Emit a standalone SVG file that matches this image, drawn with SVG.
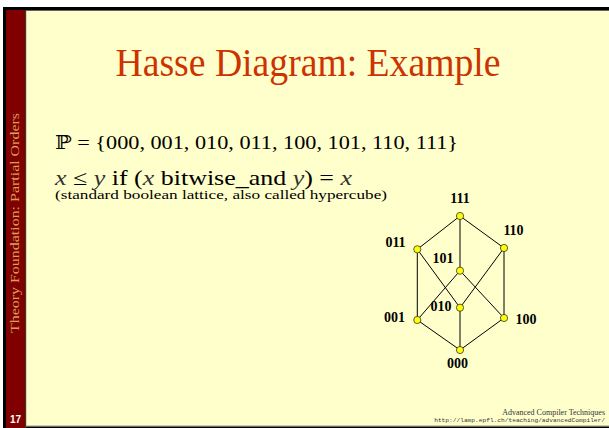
<svg xmlns="http://www.w3.org/2000/svg" width="609" height="428" viewBox="0 0 609 428">
<style>
.serif{font-family:"Liberation Serif","DejaVu Serif",serif;}
.lbl{font-family:"Liberation Serif","DejaVu Serif",serif;font-weight:bold;font-size:14px;fill:#000;}
.edge{stroke:#000;stroke-width:1;fill:none;}
.node{fill:#FFFF00;stroke:#333;stroke-width:0.8;}
.var{font-style:italic;fill:#333;}
</style>
<rect x="0" y="0" width="609" height="428" fill="#FFFFFF"/>
<rect x="3" y="7" width="606" height="421" fill="#000"/>
<rect x="6" y="10" width="603" height="416" fill="#FFFFCC"/>
<rect x="6" y="10" width="19" height="418" fill="#800000"/>
<rect x="25" y="10" width="1.2" height="418" fill="#3a3a2a"/>
<rect x="26" y="425.5" width="583" height="1.2" fill="#999988"/>
<rect x="26" y="10" width="583" height="1" fill="#666655"/>
<text class="serif" transform="translate(18.5,333) rotate(-90)" font-size="12.5" fill="#D9A05A" textLength="220" lengthAdjust="spacingAndGlyphs">Theory Foundation: Partial Orders</text>
<text x="10" y="423" font-family="'Liberation Sans',Arial,sans-serif" font-weight="bold" font-size="10" fill="#FFFFFF">17</text>
<text class="serif" x="115.5" y="75.5" font-size="40" fill="#CC3300" textLength="385" lengthAdjust="spacingAndGlyphs">Hasse Diagram: Example</text>
<text class="serif" x="55" y="148.5" font-size="19" fill="#000" textLength="403" lengthAdjust="spacingAndGlyphs">ℙ = {000, 001, 010, 011, 100, 101, 110, 111}</text>
<text class="serif" x="55" y="185" font-size="21" fill="#000" textLength="297" lengthAdjust="spacingAndGlyphs"><tspan class="var">x</tspan> ≤ <tspan class="var">y</tspan> if (<tspan class="var">x</tspan> bitwise_and <tspan class="var">y</tspan>) = <tspan class="var">x</tspan></text>
<text class="serif" x="55" y="199" font-size="12.5" fill="#000" textLength="332" lengthAdjust="spacingAndGlyphs">(standard boolean lattice, also called hypercube)</text>
<text class="serif" x="605" y="415" font-size="8" fill="#333" text-anchor="end">Advanced Compiler Techniques</text>
<text x="605" y="421.5" font-family="'Liberation Mono','DejaVu Sans Mono',monospace" font-size="6.2" fill="#333" text-anchor="end">http://lamp.epfl.ch/teaching/advancedCompiler/</text>
<g id="connectors">
<line class="edge" x1="460" y1="216" x2="417.3" y2="249.3"/>
<line class="edge" x1="460" y1="216" x2="504" y2="248"/>
<line class="edge" x1="460" y1="216" x2="460" y2="270.7"/>
<line class="edge" x1="417.3" y1="249.3" x2="417.3" y2="320"/>
<line class="edge" x1="417.3" y1="249.3" x2="460" y2="307.7"/>
<line class="edge" x1="504" y1="248" x2="460" y2="307.7"/>
<line class="edge" x1="504" y1="248" x2="504" y2="318"/>
<line class="edge" x1="460" y1="270.7" x2="417.3" y2="320"/>
<line class="edge" x1="460" y1="270.7" x2="504" y2="318"/>
<line class="edge" x1="460" y1="307.7" x2="460" y2="350"/>
<line class="edge" x1="417.3" y1="320" x2="460" y2="350"/>
<line class="edge" x1="504" y1="318" x2="460" y2="350"/>
</g>
<g id="n111"><circle class="node" cx="460" cy="216" r="3.6"/><text class="lbl" x="460" y="203" text-anchor="middle">111</text></g>
<g id="n011"><circle class="node" cx="417.3" cy="249.3" r="3.6"/><text class="lbl" x="395.5" y="246.5" text-anchor="middle">011</text></g>
<g id="n110"><circle class="node" cx="504" cy="248" r="3.6"/><text class="lbl" x="513.5" y="235" text-anchor="middle">110</text></g>
<g id="n101"><circle class="node" cx="460" cy="270.7" r="3.6"/><text class="lbl" x="443" y="262.5" text-anchor="middle">101</text></g>
<g id="n010"><circle class="node" cx="460" cy="307.7" r="3.6"/><text class="lbl" x="441" y="311" text-anchor="middle">010</text></g>
<g id="n001"><circle class="node" cx="417.3" cy="320" r="3.6"/><text class="lbl" x="394.5" y="322" text-anchor="middle">001</text></g>
<g id="n100"><circle class="node" cx="504" cy="318" r="3.6"/><text class="lbl" x="526" y="324" text-anchor="middle">100</text></g>
<g id="n000"><circle class="node" cx="460" cy="350" r="3.6"/><text class="lbl" x="457.5" y="368" text-anchor="middle">000</text></g>
</svg>
